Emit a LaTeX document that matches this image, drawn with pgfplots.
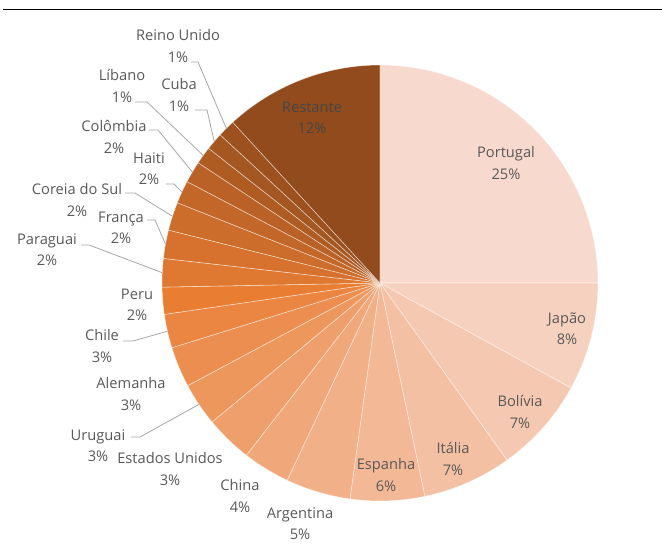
\documentclass[border=0pt]{standalone}
\usepackage{pgfplots}
\pgfplotsset{compat=1.18}
\usepackage{pgfplotstable}
\usepackage{fontspec}
\setmainfont{Open Sans}

\definecolor{lightc}{RGB}{248,217,205}
\definecolor{basec}{RGB}{233,125,50}
\definecolor{darkc}{RGB}{145,75,28}
\definecolor{labelc}{RGB}{89,89,89}
\definecolor{leaderc}{RGB}{166,166,166}

% share in %, clockwise from 12 o'clock; label centre and leader (picture px)
\pgfplotstableread[col sep=comma]{
name,share,pct,lx,ly,lead,ax,ay,bx,by
Portugal,25.0,25,506,163,0,0,0,0,0
Japão,8.0,8,567,329,0,0,0,0,0
Bolívia,7.1,7,520,412,0,0,0,0,0
Itália,6.6,7,453,459,0,0,0,0,0
Espanha,5.5,6,386,475,0,0,0,0,0
Argentina,4.8,5,300,524,0,0,0,0,0
China,3.5,4,240,496,0,0,0,0,0
Estados Unidos,3.5,3,170,469,0,0,0,0,0
Uruguai,3.2,3,98,446,1,131,437,140,437
Alemanha,3.0,3,131,394,0,0,0,0,0
Chile,2.5,3,102,346,1,123,341,133,341
Peru,2.0,2,137,305,0,0,0,0,0
Paraguai,2.1,2,47,250,1,81,245,89,245
França,2.1,2,121,228,1,147,220,155,220
Coreia do Sul,2.1,2,77,200,1,125,193,135,193
Haiti,1.7,2,149,169,1,166,184,174,184
Colômbia,1.6,2,114,137,1,149,130,158,130
Líbano,1.3,1,122,86,1,135,102,147,102
Cuba,1.3,1,179,95,1,195,110,207,110
Reino Unido,1.3,1,178,46,1,191,62,198,62
Restante,11.8,12,312,118,0,0,0,0,0
}\pies

\begin{document}
\begin{tikzpicture}
\useasboundingbox (0,0) rectangle (496.5pt,415.5pt);
\begin{axis}[
  hide axis,
  scale only axis,
  x=0.75pt, y=0.75pt,
  xmin=0, xmax=662,
  ymin=0, ymax=554,
  y dir=reverse,
  at={(0,0)}, anchor=south west,
  clip=false,
]
\pgfplotsextra{
  \pgfplotstablegetrowsof{\pies}
  \pgfmathtruncatemacro\lastrow{\pgfplotsretval-1}
  \gdef\cum{0}
  % slices
  \foreach \i in {0,...,\lastrow}{
    \pgfplotstablegetelem{\i}{share}\of\pies \let\v\pgfplotsretval
    \pgfmathsetmacro\sa{90-3.6*\cum}
    \pgfmathsetmacro\ea{90-3.6*(\cum+\v)}
    \ifnum\i<12
      \pgfmathtruncatemacro\mix{100*\i/11}
      \colorlet{slicec}{basec!\mix!lightc}
    \else
      \pgfmathtruncatemacro\mix{100*(\i-11)/9}
      \colorlet{slicec}{darkc!\mix!basec}
    \fi
    \filldraw[fill=slicec, draw=white, draw opacity=0.55, line width=0.45pt]
      (axis cs:380,283) -- ([shift={(\sa:163.5pt)}]axis cs:380,283)
      arc[start angle=\sa, end angle=\ea, radius=163.5pt] -- cycle;
    \pgfmathsetmacro\newcum{\cum+\v}
    \xdef\cum{\newcum}
  }
  % labels and leader lines
  \gdef\cum{0}
  \foreach \i in {0,...,\lastrow}{
    \pgfplotstablegetelem{\i}{share}\of\pies \let\v\pgfplotsretval
    \pgfplotstablegetelem{\i}{name}\of\pies \let\nm\pgfplotsretval
    \pgfplotstablegetelem{\i}{pct}\of\pies \let\pc\pgfplotsretval
    \pgfplotstablegetelem{\i}{lx}\of\pies \let\lx\pgfplotsretval
    \pgfplotstablegetelem{\i}{ly}\of\pies \let\ly\pgfplotsretval
    \pgfplotstablegetelem{\i}{lead}\of\pies \let\lead\pgfplotsretval
    \pgfmathsetmacro\ma{90-3.6*(\cum+\v/2)}
    \ifnum\lead=1
      \pgfplotstablegetelem{\i}{ax}\of\pies \let\ax\pgfplotsretval
      \pgfplotstablegetelem{\i}{ay}\of\pies \let\ay\pgfplotsretval
      \pgfplotstablegetelem{\i}{bx}\of\pies \let\bx\pgfplotsretval
      \pgfplotstablegetelem{\i}{by}\of\pies \let\by\pgfplotsretval
      \draw[leaderc, line width=0.6pt] (axis cs:\ax,\ay) -- (axis cs:\bx,\by)
        -- ([shift={(\ma:163.5pt)}]axis cs:380,283);
    \fi
    \ifnum\i=\lastrow \colorlet{txtc}{black!72}\else \colorlet{txtc}{labelc}\fi
    \node[align=center, text=txtc, inner sep=0pt,
          font=\fontsize{11}{16}\selectfont] at (axis cs:\lx,\ly) {\nm\\\pc\%};
    \pgfmathsetmacro\newcum{\cum+\v}
    \xdef\cum{\newcum}
  }
  \draw[black, line width=1.4pt] (axis cs:3,9.5) -- (axis cs:662,9.5);
}
\end{axis}
\end{tikzpicture}
\end{document}
